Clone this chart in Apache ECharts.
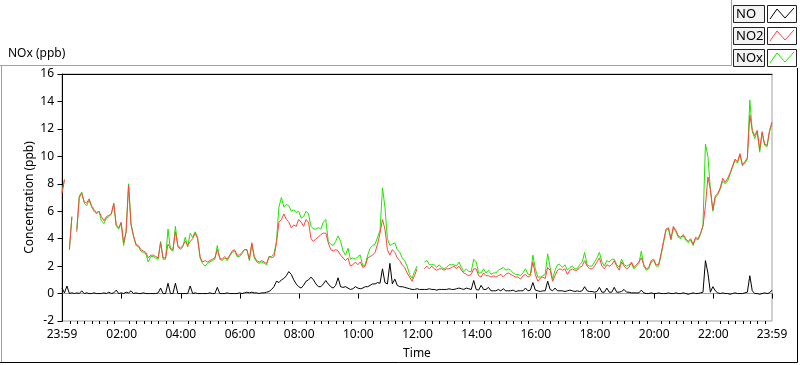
<!DOCTYPE html>
<html>
<head>
<meta charset="utf-8">
<script src="https://cdn.jsdelivr.net/npm/echarts@6/dist/echarts.min.js"></script>
<style>
html,body{margin:0;padding:0;background:#fff;}
#chart{width:800px;height:365px;}
</style>
</head>
<body>
<div id="chart"></div>
<script>
// Time axis: minutes since midnight, sampled every 5 minutes from 23:59 (-1) to 23:59 (1439)
const startMinute = -1;
const stepMinutes = 5;

const no2Values = [
7.3, 8.3, null, 3.2, 5.6, null, 4.5, 7.0, 7.3, 6.7,
6.6, 6.9, 6.4, 6.1, 5.9, 6.0, 5.6, 5.3, 5.6, 5.7,
5.8, 6.6, 5.0, 4.8, 5.2, 3.7, 4.5, 7.9, 5.0, 4.2,
3.6, 3.5, 3.2, 3.1, 3.0, 2.6, 2.8, 2.8, 2.7, 2.6,
3.7, 2.6, 2.6, 3.6, 3.3, 3.2, 4.5, 3.5, 3.3, 3.5,
3.8, 3.5, 3.8, 4.0, 4.4, 4.0, 2.7, 2.3,
2.4, 2.3, 2.4, 2.5, 2.6, 3.2, 2.6, 2.5, 2.7, 2.5,
2.8, 3.1, 3.2, 2.8, 2.8, 3.0, 3.2, 3.2, 2.5, 3.7,
2.7, 2.4, 2.3, 2.4, 2.3, 2.2, 2.7, 2.6, 2.7, 3.7,
5.2, 5.4, 5.8, 5.4, 5.2, 4.8, 5.0, 4.9, 5.4, 5.2,
4.9, 5.4, 5.2, 4.0, 3.8, 4.0, 4.1, 4.3, 4.4, 4.4,
3.7, 3.2, 3.1, 3.2, 3.1, 2.8, 2.6, 2.4,
2.6, 2.0, 2.1, 2.3, 2.1, 2.3, 1.9, 2.0, 2.6, 2.7,
2.8, 3.0, 3.6, 4.4, 5.4, 4.7, 3.2, 2.8, 3.2, 3.0,
2.6, 2.4, 2.1, 1.9, 1.5, 1.2, 0.9, 1.3, 1.8, null,
null, 1.8, 2.0, 1.8, 2.0, 1.8, 1.7, 1.8, 1.8, 1.7,
1.8, 1.8, 1.9, 2.0, 1.8, 2.0, 1.7, 1.5, 1.4, 1.3,
1.4, 1.8, 1.8, 1.3, 1.2, 1.5, 1.3,
1.3, 1.2, 1.3, 1.2, 1.3, 1.4, 1.2, 1.4, 1.5, 1.4,
1.3, 1.2, 1.2, 1.05, 1.3, 1.4, 1.2, 1.3, 2.3, 1.4,
0.9, 1.1, 1.2, 1.1, 1.9, 1.7, 0.9, 1.3, 1.7, 1.8,
1.7, 1.8, 1.4, 1.7, 1.8, 1.7, 1.7, 1.9, 2.0, 2.4,
2.0, 1.8, 1.8, 2.0, 2.3, 2.6, 2.0, 1.8, 2.1, 2.0,
2.1, 2.4, 2.0, 1.7, 2.3, 2.0, 1.8, 1.9,
2.3, 1.9, 2.1, 2.3, 2.6, 2.1, 1.8, 1.9, 2.4, 2.5,
2.1, 2.1, 2.9, 3.8, 4.7, 4.8, 4.0, 4.9, 4.6, 4.2,
4.1, 4.3, 4.0, 3.8, 4.0, 3.6, 4.1, 4.0, 4.4, 4.9,
6.4, 8.5, 7.6, 6.1, 7.1, 7.3, 7.7, 8.4, 8.1, 8.4,
8.8, 9.3, 9.8, 9.6, 10.2, 9.4, 9.6, 9.9, 13.0, 11.9,
11.5, 11.9, 10.5, 11.8, 10.9, 10.8, 11.9, 12.5
];

const noxValues = [
7.4, 8.3, null, 3.2, 5.6, null, 4.7, 7.1, 7.4, 6.6,
6.4, 6.8, 6.3, 6.0, 5.8, 6.0, 5.3, 5.1, 5.5, 5.6,
5.8, 6.5, 4.9, 4.7, 5.1, 3.5, 4.5, 8.0, 5.1, 4.2,
3.5, 3.4, 3.1, 3.0, 2.9, 2.3, 2.7, 2.7, 2.6, 2.5,
3.8, 2.5, 2.5, 4.7, 3.2, 3.1, 4.9, 3.4, 3.2, 3.4,
4.1, 3.4, 4.4, 4.1, 4.5, 4.1, 2.6, 2.2,
2.0, 2.2, 2.3, 2.4, 2.5, 3.5, 2.5, 2.4, 2.6, 2.4,
2.7, 3.0, 3.1, 2.7, 2.7, 2.9, 3.2, 3.2, 2.4, 3.6,
2.6, 2.3, 2.2, 2.3, 2.2, 2.1, 2.7, 2.7, 2.9, 3.8,
6.3, 7.0, 6.3, 6.5, 6.4, 6.0, 6.1, 5.9, 6.0, 5.5,
5.6, 6.0, 5.8, 4.9, 4.7, 4.7, 4.8, 4.7, 5.2, 5.4,
3.8, 3.6, 3.5, 3.8, 4.2, 3.8, 3.1, 2.8,
3.3, 2.5, 2.6, 2.5, 2.7, 2.8, 2.0, 2.1, 2.8, 3.3,
3.5, 3.6, 4.1, 4.6, 7.7, 6.3, 4.0, 3.5, 3.6, 3.7,
3.2, 3.0, 2.6, 2.4, 2.0, 1.4, 1.1, 1.6, 2.0, null,
null, 2.3, 2.4, 2.1, 2.1, 2.1, 1.9, 2.1, 1.9, 1.8,
1.9, 2.1, 2.1, 2.1, 2.0, 2.3, 1.9, 1.6, 1.8, 1.6,
1.6, 2.5, 2.3, 1.5, 1.5, 1.8, 1.5,
1.7, 1.4, 1.5, 1.5, 1.7, 1.8, 1.9, 1.7, 1.8, 1.7,
1.5, 1.4, 1.4, 1.3, 1.5, 1.8, 1.4, 1.4, 2.8, 1.8,
1.2, 1.2, 1.3, 1.4, 2.9, 1.9, 1.05, 1.7, 2.1, 2.1,
1.9, 2.1, 1.7, 1.9, 2.0, 1.8, 1.8, 2.1, 2.3, 3.0,
2.1, 2.0, 2.0, 2.3, 2.6, 3.0, 2.3, 2.0, 2.4, 2.3,
2.5, 2.5, 2.1, 1.9, 2.5, 2.1, 2.0, 2.1,
2.2, 1.8, 2.0, 2.2, 3.1, 2.0, 1.7, 1.8, 2.3, 2.4,
2.0, 2.0, 2.8, 3.7, 4.6, 4.7, 3.9, 4.8, 4.5, 4.1,
4.0, 4.2, 3.9, 3.7, 3.9, 3.5, 4.0, 3.9, 4.3, 5.0,
10.9, 10.0, 7.6, 6.0, 7.0, 7.2, 7.6, 8.2, 8.0, 8.2,
8.7, 9.2, 9.7, 9.5, 10.1, 9.3, 9.5, 9.8, 14.1, 11.8,
11.3, 11.8, 10.3, 11.7, 10.8, 10.7, 11.8, 12.4
];

const noValues = [
0.4, 0.05, 0.55, 0.0, 0.05, 0.0, 0.05, 0.0, 0.2, 0.0,
0.05, 0.0, 0.0, 0.05, 0.0, 0.0, 0.0, 0.05, 0.0, 0.1,
0.0, 0.05, 0.25, 0.0, 0.05, 0.0, 0.1, 0.05, 0.2, 0.0,
0.05, 0.0, 0.0, 0.05, 0.0, 0.0, 0.0, 0.0, 0.0, 0.05,
0.4, 0.0, 0.0, 0.75, 0.0, 0.0, 0.75, 0.0, 0.0, 0.0,
0.0, 0.0, 0.55, 0.0, 0.05, 0.0, 0.0, 0.0,
0.0, 0.0, 0.05, 0.0, 0.0, 0.45, 0.0, 0.0, 0.0, 0.05,
0.0, 0.0, 0.0, 0.0, 0.05, 0.0, 0.05, 0.1, 0.05, 0.1,
0.05, 0.05, 0.0, 0.05, 0.05, 0.1, 0.15, 0.3, 0.5, 0.9,
0.8, 1.0, 1.1, 1.3, 1.6, 1.4, 1.0, 0.7, 0.5, 0.4,
0.6, 0.9, 1.0, 1.2, 1.0, 0.7, 0.5, 0.5, 0.7, 0.95,
0.7, 0.5, 0.4, 0.6, 1.15, 0.5, 0.45, 0.5,
0.4, 0.3, 0.35, 0.5, 0.4, 0.35, 0.4, 0.5, 0.5, 0.6,
0.7, 0.7, 0.8, 0.75, 1.8, 0.8, 0.7, 2.2, 0.7, 1.05,
0.6, 0.5, 0.5, 0.45, 0.4, 0.35, 0.3, 0.3, 0.35, 0.3,
0.3, 0.3, 0.3, 0.35, 0.3, 0.3, 0.25, 0.3, 0.3, 0.3,
0.3, 0.35, 0.3, 0.3, 0.35, 0.4, 0.35, 0.3, 0.4, 0.35,
0.3, 0.95, 0.3, 0.25, 0.6, 0.3, 0.3,
0.45, 0.2, 0.2, 0.2, 0.3, 0.2, 0.35, 0.2, 0.2, 0.2,
0.25, 0.15, 0.2, 0.2, 0.2, 0.4, 0.2, 0.25, 0.8, 0.25,
0.2, 0.15, 0.2, 0.2, 0.9, 0.3, 0.2, 0.4, 0.2, 0.2,
0.2, 0.15, 0.2, 0.25, 0.2, 0.15, 0.2, 0.15, 0.2, 0.5,
0.2, 0.15, 0.15, 0.1, 0.15, 0.45, 0.1, 0.1, 0.4, 0.1,
0.1, 0.45, 0.1, 0.1, 0.15, 0.3, 0.1, 0.1,
0.05, 0.05, 0.05, 0.05, 0.25, 0.05, 0.0, 0.0, 0.05, 0.0,
0.0, 0.05, 0.0, 0.0, 0.0, 0.05, 0.0, 0.0, 0.05, 0.0,
0.0, 0.05, 0.0, -0.05, 0.0, 0.05, 0.0, 0.0, 0.05, 0.1,
2.4, 1.5, 0.1, 0.5, 0.2, 0.05, 0.0, 0.05, 0.0, 0.0,
-0.05, 0.0, 0.05, 0.0, 0.0, 0.0, 0.05, 0.1, 1.3, 0.2,
0.0, 0.0, -0.05, 0.0, 0.05, 0.0, 0.05, 0.25
];

const majorTickMinutes = [-1, 120, 240, 360, 480, 600, 720, 840, 960, 1080, 1200, 1320, 1439];
const seriesNames = ['NO', 'NO2', 'NOx'];
const seriesColors = ['#000000', '#ff4444', '#22e400'];

const times = noValues.map((_, i) => startMinute + i * stepMinutes);
const pairs = vals => vals.map((v, i) => [times[i], v]);

const minorTickMinutes = [];
for (let m = 15; m < 1439; m += 15) {
  if (m % 120 !== 0) minorTickMinutes.push(m);
}

function fmtTime(v) {
  let m = ((Math.round(v) % 1440) + 1440) % 1440;
  const h = Math.floor(m / 60), mm = m % 60;
  return String(h).padStart(2, '0') + ':' + String(mm).padStart(2, '0');
}

const FONT = 'Noto Sans';
const chart = echarts.init(document.getElementById('chart'), null, {renderer: 'canvas'});

// legend-like boxes (LabVIEW style)
const legendGraphics = [];
seriesNames.forEach((name, k) => {
  const y0 = 5 + k * 22;
  legendGraphics.push(
    {type: 'rect', shape: {x: 733.5, y: y0 + 0.5, width: 31, height: 17},
     style: {fill: '#f3f3f3', stroke: '#222', lineWidth: 1}, silent: true},
    {type: 'text', x: 736, y: y0 + 9,
     style: {text: name, fill: '#000', font: '13px "' + FONT + '"', textVerticalAlign: 'middle'}, silent: true},
    {type: 'rect', shape: {x: 767.5, y: y0 + 0.5, width: 29, height: 17},
     style: {fill: '#ffffff', stroke: '#222', lineWidth: 1}, silent: true},
    {type: 'polyline', shape: {points: [[770, y0 + 14], [777, y0 + 4], [785, y0 + 13], [794, y0 + 3]]},
     style: {stroke: seriesColors[k], lineWidth: 1, fill: null}, silent: true}
  );
});

const option = {
  backgroundColor: '#ffffff',
  animation: false,
  textStyle: {fontFamily: FONT},
  title: {
    text: 'NOx (ppb)', left: 3, top: 43,
    textStyle: {fontFamily: FONT, fontSize: 12, fontWeight: 'normal', color: '#000'}
  },
  grid: {
    left: 62, top: 74, right: 28, bottom: 43,
    show: true, borderColor: '#a0a0a0', borderWidth: 1, backgroundColor: '#fff'
  },
  graphic: [
    {type: 'polyline', shape: {points: [[0, 65.5], [731.5, 65.5], [731.5, 0]]},
     style: {stroke: '#a0a0a0', lineWidth: 1, fill: null}, silent: true},
    {type: 'polyline', shape: {points: [[1.5, 65.5], [1.5, 362.5]]},
     style: {stroke: '#a0a0a0', lineWidth: 1, fill: null}, silent: true},
    {type: 'polyline', shape: {points: [[0, 362.5], [797.5, 362.5], [797.5, 68]]},
     style: {stroke: '#000', lineWidth: 1, fill: null}, silent: true}
  ].concat(legendGraphics),
  xAxis: [
    {
      type: 'value', position: 'bottom', min: -1, max: 1439,
      name: 'Time', nameLocation: 'middle', nameGap: 27, nameMoveOverlap: false,
      nameTextStyle: {fontFamily: FONT, fontSize: 12, color: '#000'},
      axisLine: {show: true, lineStyle: {color: '#a0a0a0', width: 1}},
      axisTick: {show: true, customValues: majorTickMinutes, length: 5, lineStyle: {color: '#000'}},
      axisLabel: {show: true, customValues: majorTickMinutes, formatter: fmtTime,
                  fontFamily: FONT, fontSize: 12, color: '#000', margin: 8},
      splitLine: {show: false}
    },
    {
      type: 'value', position: 'bottom', min: -1, max: 1439,
      axisLine: {show: false},
      axisTick: {show: true, customValues: minorTickMinutes, length: 3, lineStyle: {color: '#000'}},
      axisLabel: {show: false},
      splitLine: {show: false}
    },
    {
      type: 'value', position: 'top', min: -1, max: 1439,
      axisLine: {show: true, lineStyle: {color: '#000', width: 1}},
      axisTick: {show: false}, axisLabel: {show: false}, splitLine: {show: false}
    }
  ],
  yAxis: {
    type: 'value', min: -2, max: 16, interval: 2,
    name: 'Concentration (ppb)', nameLocation: 'middle', nameGap: 26, nameRotate: 90,
    nameMoveOverlap: false,
    nameTextStyle: {fontFamily: FONT, fontSize: 12, color: '#000'},
    axisLine: {show: true, lineStyle: {color: '#000', width: 1}},
    axisTick: {show: true, length: 5, lineStyle: {color: '#000'}},
    axisLabel: {fontFamily: FONT, fontSize: 12, color: '#000', margin: 8},
    splitLine: {show: false}
  },
  series: [
    {name: 'NO', type: 'line', data: pairs(noValues), showSymbol: false, connectNulls: false, z: 4,
     lineStyle: {color: seriesColors[0], width: 1}, itemStyle: {color: seriesColors[0]}},
    {name: 'NO2', type: 'line', data: pairs(no2Values), showSymbol: false, connectNulls: false, z: 3,
     lineStyle: {color: seriesColors[1], width: 1}, itemStyle: {color: seriesColors[1]}},
    {name: 'NOx', type: 'line', data: pairs(noxValues), showSymbol: false, connectNulls: false, z: 2,
     lineStyle: {color: seriesColors[2], width: 1}, itemStyle: {color: seriesColors[2]}}
  ]
};
chart.setOption(option);
</script>
</body>
</html>
